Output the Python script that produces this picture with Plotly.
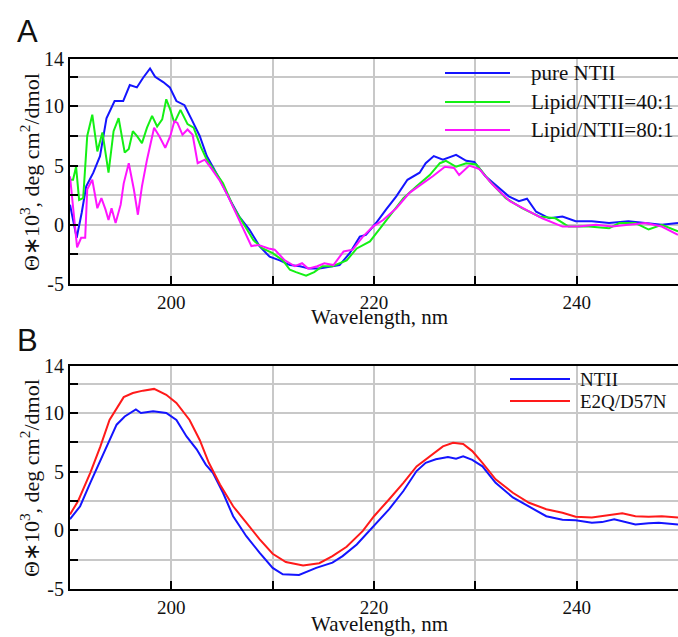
import plotly.graph_objects as go

# ---------------- Panel A data ----------------
a_blue_x = [190.0, 190.66, 191.15, 191.6, 192.3, 192.96, 193.6, 194.4, 195.25, 195.9, 196.6, 197.2, 197.9, 198.4,
            199.2, 199.85, 200.5, 201.3, 202.0, 202.8, 203.5, 204.1, 204.8, 205.8, 206.7, 207.7, 208.7, 209.7,
            210.7, 211.7, 212.7, 213.6, 214.6, 215.9, 216.6, 217.6, 218.6, 219.2, 220.2, 221.2, 222.2, 223.3,
            224.5, 225.1, 225.9, 226.8, 228.1, 229.1, 229.9, 231.0, 232.4, 233.3, 234.3, 235.1, 236.0, 237.3,
            238.6, 239.9, 241.5, 243.2, 245.1, 247.1, 248.4, 250.0]
a_blue_y = [1.7, -1.1, 1.0, 3.25, 4.4, 5.8, 9.0, 10.45, 10.45, 11.8, 11.6, 12.4, 13.2, 12.5,
            12.05, 11.6, 10.45, 10.1, 8.9, 7.5, 5.8, 4.9, 3.8, 2.1, 0.7, -0.4, -1.8, -2.7,
            -3.0, -3.4, -3.5, -3.7, -3.7, -3.5, -3.4, -2.4, -1.0, -0.85, 0.15, 1.3, 2.4, 3.8,
            4.4, 5.2, 5.8, 5.5, 5.9, 5.4, 5.3, 4.1, 3.1, 2.4, 2.0, 2.2, 1.1, 0.55,
            0.7, 0.3, 0.3, 0.15, 0.3, 0.15, 0.0, 0.15]

a_green_x = [190.0, 190.3, 190.6, 190.9, 191.3, 191.7, 192.2, 192.7, 193.2, 193.5, 193.8, 194.3, 194.8, 195.4,
             195.8, 196.2, 196.6, 197.1, 197.6, 198.1, 198.6, 199.1, 199.5, 199.9, 200.3, 200.9, 201.6, 202.2,
             202.9, 203.5, 204.3, 205.1, 206.1, 207.1, 208.1, 209.0, 210.0, 211.0, 211.7, 212.3, 213.3, 214.1,
             214.9, 215.9, 217.3, 218.3, 219.6, 220.6, 221.5, 222.9, 224.2, 225.5, 226.5, 227.1, 228.1, 229.1,
             230.1, 231.4, 233.0, 234.6, 236.3, 237.9, 239.2, 241.2, 243.2, 244.2, 245.8, 247.1, 248.4, 250.0]
a_green_y = [3.8, 3.8, 4.9, 2.1, 2.25, 7.5, 9.3, 6.2, 7.8, 6.2, 4.4, 7.9, 9.0, 6.1,
             6.4, 7.9, 7.5, 6.9, 8.2, 9.2, 8.3, 8.9, 10.6, 9.7, 8.6, 9.7, 8.5, 8.2,
             6.6, 5.5, 4.5, 3.5, 1.55, 0.15, -1.3, -2.0, -2.4, -3.0, -3.8, -4.0, -4.3, -4.0,
             -3.5, -3.5, -3.0, -2.0, -1.4, -0.3, 0.7, 2.25, 3.25, 4.2, 5.2, 5.4, 4.9, 5.2,
             5.1, 3.7, 2.25, 1.4, 0.7, 0.55, -0.15, -0.15, -0.3, 0.15, 0.15, -0.4, 0.0, -0.55]

a_mag_x = [190.0, 190.4, 190.7, 191.1, 191.5, 191.7, 192.2, 192.7, 193.1, 193.5, 193.8, 194.1, 194.5, 195.0,
           195.3, 195.8, 196.3, 196.7, 197.1, 197.6, 198.3, 198.8, 199.4, 199.9, 200.3, 200.6, 201.1, 201.6,
           202.1, 202.6, 203.3, 204.0, 204.8, 205.6, 206.4, 207.3, 207.9, 208.6, 209.6, 210.2, 211.2, 212.2,
           212.9, 213.5, 214.4, 215.1, 216.0, 217.0, 217.9, 218.9, 219.9, 220.9, 222.2, 223.5, 224.8, 225.8,
           227.0, 227.9, 228.4, 229.4, 230.4, 231.7, 233.4, 235.0, 236.6, 238.6, 240.2, 241.9, 243.5, 245.1,
           246.8, 248.4, 250.0]
a_mag_y = [4.1, 1.0, -1.9, -1.1, -1.1, 3.0, 3.8, 1.4, 2.25, 1.3, 0.4, 1.4, 0.15, 1.7,
           3.5, 5.2, 3.0, 0.85, 3.25, 5.5, 8.2, 7.5, 6.5, 7.5, 8.75, 8.6, 7.6, 8.05,
           7.6, 5.2, 5.5, 4.7, 3.7, 2.4, 1.0, -0.7, -1.8, -1.7, -2.0, -2.1, -3.0, -3.5,
           -3.25, -3.7, -3.5, -3.25, -3.4, -2.25, -2.1, -1.0, -0.15, 0.4, 1.4, 2.7, 3.5, 4.1,
           4.9, 4.8, 4.2, 5.0, 4.7, 3.4, 2.0, 1.3, 0.55, -0.15, -0.15, 0.0, -0.15, 0.0,
           0.15, -0.15, -0.85]

# ---------------- Panel B data ----------------
b_blue_x = [190.0, 191.0, 192.0, 193.0, 193.9, 194.6, 195.4, 196.5, 197.0, 198.2, 199.5, 200.5, 201.5, 202.5,
            203.4, 204.1, 205.1, 206.1, 207.4, 208.7, 210.0, 211.0, 212.6, 214.3, 215.9, 216.9, 218.3, 220.0,
            221.5, 222.9, 224.2, 225.1, 226.1, 227.3, 228.1, 228.8, 229.7, 230.7, 232.0, 233.7, 235.3, 237.0,
            238.6, 239.9, 241.5, 242.5, 243.7, 244.8, 245.8, 247.1, 248.1, 250.0]
b_blue_y = [0.95, 2.05, 4.05, 6.0, 7.6, 9.0, 9.7, 10.3, 10.0, 10.15, 10.0, 9.4, 8.0, 6.9,
            5.6, 4.9, 3.2, 1.2, -0.5, -1.9, -3.2, -3.75, -3.8, -3.2, -2.75, -2.2, -1.2, 0.35,
            1.8, 3.35, 5.05, 5.75, 6.05, 6.25, 6.1, 6.3, 6.0, 5.45, 4.05, 2.8, 2.05, 1.2,
            0.9, 0.85, 0.65, 0.7, 0.95, 0.7, 0.5, 0.6, 0.65, 0.5]

b_red_x = [190.0, 190.8, 192.0, 193.0, 193.9, 195.3, 196.2, 197.2, 198.3, 199.5, 200.5, 201.8, 202.8, 203.7,
           204.8, 206.1, 207.4, 208.7, 210.0, 211.3, 213.0, 214.6, 215.9, 217.3, 218.9, 220.0, 221.5, 222.9,
           224.2, 225.5, 226.8, 227.8, 228.8, 229.7, 230.7, 232.0, 233.7, 235.3, 237.0, 238.6, 239.9, 241.5,
           243.2, 244.5, 245.8, 247.1, 248.4, 250.0]
b_red_y = [1.35, 2.5, 4.9, 7.15, 9.4, 11.35, 11.7, 11.9, 12.05, 11.55, 10.85, 9.4, 7.7, 5.75,
           3.9, 2.05, 0.65, -0.75, -2.0, -2.7, -3.0, -2.8, -2.2, -1.4, -0.05, 1.2, 2.65, 4.05,
           5.45, 6.3, 7.15, 7.45, 7.35, 6.75, 5.75, 4.35, 3.2, 2.35, 1.8, 1.5, 1.15, 1.1,
           1.3, 1.45, 1.2, 1.15, 1.2, 1.1]

# ---------------- Labels ----------------
a_names = ["pure NTII", "Lipid/NTII=40:1", "Lipid/NTII=80:1"]
b_names = ["NTII", "E2Q/D57N"]
x_tickvals = [200, 210, 220, 230, 240, 250]
x_ticktext = ["200", "", "220", "", "240", ""]
y_tickvals = [-5, -2.5, 0, 2.5, 5, 7.5, 10, 12.5, 14]
y_ticktext = ["-5", "", "0", "", "5", "", "10", "", "14"]
x_title = "Wavelength, nm"
y_title = "Θ∗10<sup>3</sup>, deg cm<sup>2</sup>/dmol"

BLUE = "#1414ff"
GREEN = "#14f014"
MAG = "#ff14ff"
RED = "#ff1a1a"
SERIF = "Liberation Serif"

fig = go.Figure()
for xs, ys, c, n in [(a_blue_x, a_blue_y, BLUE, a_names[0]),
                     (a_green_x, a_green_y, GREEN, a_names[1]),
                     (a_mag_x, a_mag_y, MAG, a_names[2])]:
    fig.add_trace(go.Scatter(x=xs, y=ys, mode="lines", name=n, line=dict(color=c, width=2),
                             xaxis="x", yaxis="y", showlegend=False))
for xs, ys, c, n in [(b_blue_x, b_blue_y, BLUE, b_names[0]),
                     (b_red_x, b_red_y, RED, b_names[1])]:
    fig.add_trace(go.Scatter(x=xs, y=ys, mode="lines", name=n, line=dict(color=c, width=2),
                             xaxis="x2", yaxis="y2", showlegend=False))

L, R, T, B = 70, 0, 59, 48
W, H = 678, 637
PW, PH = W - L - R, H - T - B


def px(xp):
    return (xp - L) / PW


def py(yp):
    return (H - B - yp) / PH


xax = dict(range=[190, 250], tickvals=x_tickvals, ticktext=x_ticktext, ticks="inside", ticklen=8,
           tickwidth=2, tickcolor="black", showline=True, linecolor="black", linewidth=2, mirror=True,
           showgrid=True, gridcolor="#c8c8c8", gridwidth=2, zeroline=False,
           tickfont=dict(family=SERIF, size=19, color="#111"))
yax = dict(range=[-5, 14], tickvals=y_tickvals, ticktext=y_ticktext, ticks="inside", ticklen=8,
           tickwidth=2, tickcolor="black", showline=True, linecolor="black", linewidth=2,
           showgrid=True, gridcolor="#c8c8c8", gridwidth=2, zeroline=False,
           tickfont=dict(family=SERIF, size=20, color="#111"))

topA, botA = py(59), py(284)
topB, botB = py(366), py(589)

fig.update_layout(
    width=W, height=H, margin=dict(l=L, r=R, t=T, b=B),
    paper_bgcolor="white", plot_bgcolor="white", showlegend=False,
    xaxis=dict(xax, domain=[0, 1], anchor="y"),
    yaxis=dict(yax, domain=[botA, topA], anchor="x"),
    xaxis2=dict(xax, domain=[0, 1], anchor="y2"),
    yaxis2=dict(yax, domain=[botB, topB], anchor="x2"),
)

ann = []
# axis titles
for yc_x, yc_y in [(317, 172), (624, 478)]:
    ann.append(dict(text=x_title, x=px(380), y=py(yc_x), xref="paper", yref="paper",
                    xanchor="center", yanchor="middle", showarrow=False,
                    font=dict(family=SERIF, size=21, color="#111")))
    ann.append(dict(text=y_title, x=px(30), y=py(yc_y), xref="paper", yref="paper",
                    xanchor="center", yanchor="middle", showarrow=False, textangle=-90,
                    font=dict(family=SERIF, size=22, color="#111")))
# panel letters
for letter, yl in [("A", 31), ("B", 340)]:
    ann.append(dict(text=letter, x=px(15), y=py(yl), xref="paper", yref="paper",
                    xanchor="left", yanchor="middle", showarrow=False,
                    font=dict(family="Liberation Sans", size=31, color="#111")))

shapes = []
# legend A
for name, c, yl in zip(a_names, [BLUE, GREEN, MAG], [73, 102, 130]):
    shapes.append(dict(type="line", xref="paper", yref="paper", x0=px(445), x1=px(510),
                       y0=py(yl), y1=py(yl), line=dict(color=c, width=2)))
    ann.append(dict(text=name, x=px(529), y=py(yl), xref="paper", yref="paper",
                    xanchor="left", yanchor="middle", showarrow=False,
                    font=dict(family=SERIF, size=21, color="#111")))
# legend B
for name, c, yl in zip(b_names, [BLUE, RED], [379, 401]):
    shapes.append(dict(type="line", xref="paper", yref="paper", x0=px(510), x1=px(570),
                       y0=py(yl), y1=py(yl), line=dict(color=c, width=2)))
    ann.append(dict(text=name, x=px(578), y=py(yl), xref="paper", yref="paper",
                    xanchor="left", yanchor="middle", showarrow=False,
                    font=dict(family=SERIF, size=19, color="#111")))

fig.update_layout(annotations=ann, shapes=shapes)
fig.write_html("out.html")
